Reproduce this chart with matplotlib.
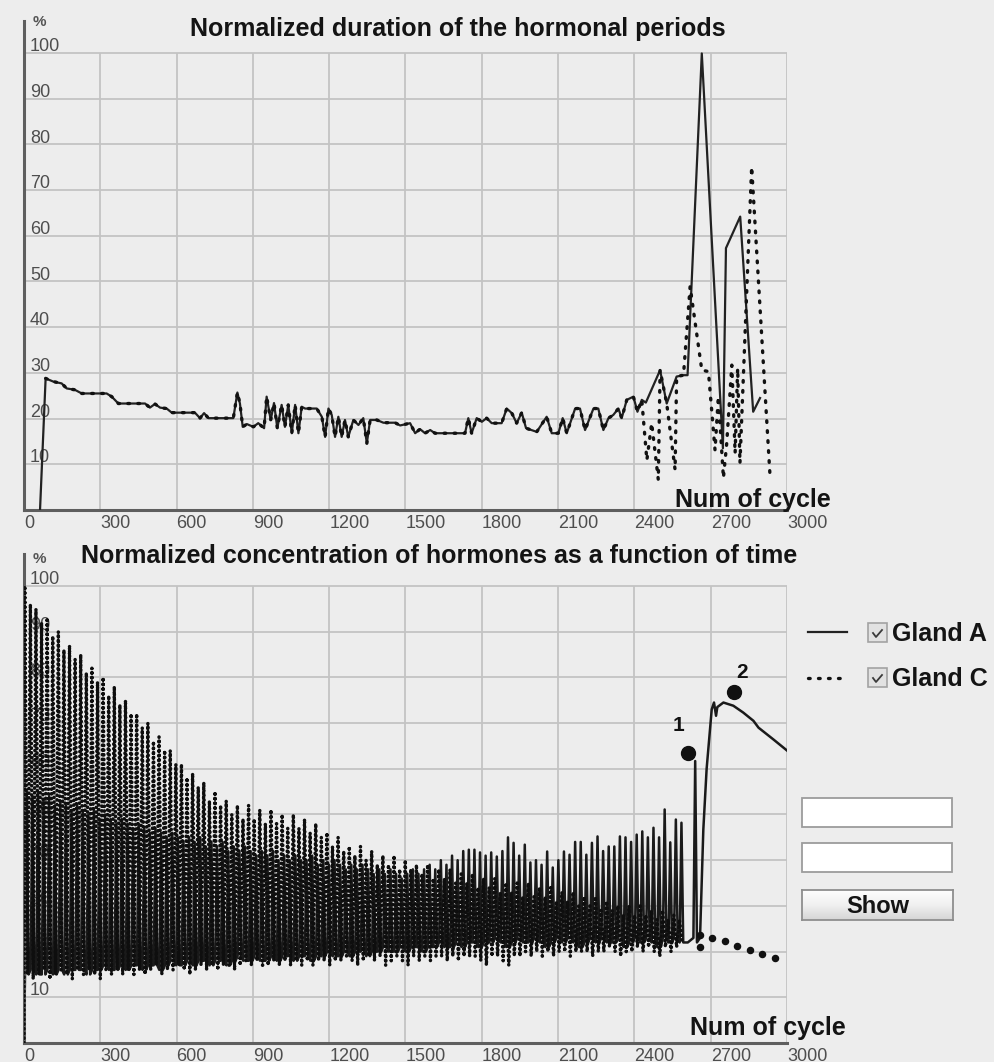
import numpy as np
import matplotlib
matplotlib.use('Agg')
import matplotlib.pyplot as plt
from matplotlib.patches import Rectangle
from matplotlib.lines import Line2D
from matplotlib.colors import LinearSegmentedColormap

plt.rcParams['font.family'] = ['Liberation Sans', 'DejaVu Sans']

W, H = 995, 1062
BG = '#ededed'
GRID = '#c3c3c3'
SPINE = '#5e5e5e'
TICKC = '#4e4e4e'

x_ticks = list(range(0, 3001, 300))
y_ticks = list(range(10, 101, 10))

# ---- normalized duration of the periods (both glands share the early part)
dur_cycle = [85, 115, 148, 168, 200, 227, 325, 345, 371, 476,
             495, 515, 535, 561, 581, 672, 692, 708, 725, 823,
             839, 849, 860, 876, 902, 921, 944, 954, 970, 983,
             996, 1013, 1026, 1039, 1053, 1066, 1079, 1092, 1105, 1151,
             1171, 1184, 1197, 1210, 1223, 1236, 1249, 1262, 1275, 1295,
             1315, 1334, 1348, 1361, 1387, 1413, 1459, 1479, 1518, 1538,
             1557, 1577, 1597, 1616, 1734, 1747, 1760, 1780, 1800, 1819,
             1839, 1878, 1898, 1918, 1937, 1957, 1974, 2016, 2055, 2075,
             2101, 2118, 2134, 2167, 2186, 2206, 2239, 2258, 2278, 2298,
             2317, 2337, 2350, 2370, 2396, 2412, 2429]
dur_shared = [28.8, 28.1, 27.7, 26.6, 26.3, 25.5, 25.5, 24.8, 23.3, 23.3,
              22.4, 23.2, 22.4, 22.2, 21.3, 21.3, 20.1, 21.2, 20.1, 20.1,
              25.7, 23.3, 18.2, 18.8, 18.2, 19.0, 17.9, 24.8, 19.7, 23.4,
              17.9, 23.0, 18.2, 23.0, 16.8, 23.0, 16.8, 22.6, 22.2, 22.2,
              20.4, 16.0, 22.2, 20.8, 16.0, 20.4, 16.0, 19.7, 16.0, 19.7,
              18.6, 20.1, 14.6, 19.7, 19.7, 19.1, 19.1, 18.5, 19.0, 16.8,
              17.7, 16.8, 17.5, 16.8, 16.8, 20.1, 16.8, 20.1, 19.3, 20.1,
              19.0, 19.0, 22.2, 21.2, 19.0, 21.3, 17.9, 17.1, 20.4, 16.8,
              16.8, 20.1, 16.8, 22.2, 22.2, 17.5, 22.2, 22.2, 17.5, 20.1,
              20.8, 22.2, 20.1, 24.1, 24.8, 21.5, 24.1]

dur_a_head_cycle = [63]
dur_a_head = [0.0]
dur_a_end_cycle = [2445, 2501, 2527, 2566, 2593, 2609, 2665, 2748, 2760, 2816, 2867, 2894]
dur_a_end = [23.5, 30.6, 23.3, 29.2, 29.5, 29.5, 99.9, 13.5, 57.3, 64.2, 21.5, 24.5]
dur_c_end_cycle = [2449, 2468, 2494, 2501, 2527, 2560, 2566, 2593, 2619, 2665, 2691,
                   2717, 2730, 2750, 2763, 2783, 2796, 2806, 2815, 2861, 2933]
dur_c_end = [10.9, 19.0, 6.6, 30.6, 23.3, 8.8, 29.2, 29.5, 48.9, 30.6, 30.3,
             13.1, 24.8, 7.0, 14.6, 31.7, 12.4, 31.0, 10.2, 75.1, 7.7]

# ---- concentration: one peak and one trough per hormonal period
period = 22
c_peaks = [100, 96, 95, 92, 93, 89, 90, 86, 87, 84,
           85, 81, 82, 79, 80, 76, 78, 74, 75, 72,
           72, 69, 70, 66, 67, 64, 64, 61, 61, 58,
           59, 56, 57, 53, 55, 52, 53, 50, 52, 49,
           52, 49, 51, 48, 51, 48, 50, 47, 50, 47,
           49, 46, 48, 45, 46, 43, 45, 42, 43, 41,
           43, 40, 42, 39, 41, 39, 41, 38, 40, 38,
           39, 37, 39, 36, 38, 36, 38, 35, 37, 35,
           37, 34, 36, 34, 36, 33, 35, 33, 35, 32,
           35, 32, 34, 32, 34, 31, 33, 31, 33, 30,
           32, 30, 32, 29, 31, 29, 30, 28, 30, 28,
           30, 28, 29, 27, 29, 27, 28, 27]
c_troughs = [15, 14, 15, 16, 14, 15, 16, 15, 14, 16,
             15, 16, 15, 14, 16, 15, 16, 15, 16, 15,
             16, 15, 16, 17, 15, 16, 16, 17, 16, 15,
             16, 17, 16, 17, 16, 17, 17, 16, 17, 18,
             17, 18, 17, 17, 18, 17, 18, 17, 18, 17,
             18, 17, 18, 18, 17, 18, 18, 19, 18, 17,
             18, 19, 18, 19, 17, 18, 19, 18, 17, 19,
             18, 19, 18, 19, 19, 18, 19, 18, 19, 19,
             19, 18, 17, 19, 19, 18, 17, 19, 19, 20,
             19, 20, 19, 20, 19, 20, 20, 19, 20, 20,
             20, 19, 20, 20, 21, 20, 19, 20, 20, 21,
             20, 21, 20, 19, 21, 20, 21, 22]
a_peaks = [55, 54, 55, 53, 54, 52, 53, 52, 51, 52,
           51, 50, 51, 49, 50, 49, 48, 49, 48, 47,
           48, 47, 46, 47, 46, 45, 46, 45, 44, 45,
           44, 45, 43, 44, 43, 44, 42, 43, 42, 43,
           42, 41, 42, 41, 42, 40, 41, 40, 41, 40,
           40, 41, 39, 40, 39, 40, 39, 38, 39, 38,
           39, 38, 37, 38, 37, 38, 37, 36, 37, 38,
           37, 38, 39, 38, 40, 39, 41, 40, 42, 42.3,
           42.3, 41.7, 41, 41.7, 40.8, 42, 45, 43.8, 41, 43.4,
           39.5, 40, 39, 41.9, 38.4, 40, 41.9, 41.2, 44, 44,
           41.2, 43.8, 45.2, 42, 43, 43, 45.2, 45, 44, 45.6,
           46.3, 45, 47.1, 45, 51.1, 43.9, 48.9, 48.2]
a_troughs = [15, 16, 15, 15, 16, 15, 16, 15, 16, 16,
             16, 15, 16, 16, 17, 16, 16, 17, 16, 17,
             17, 16, 17, 17, 16, 17, 18, 17, 17, 18,
             17, 18, 18, 17, 18, 18, 17, 18, 19, 18,
             18, 19, 18, 18, 19, 18, 19, 19, 18, 19,
             19, 18, 19, 19, 20, 19, 19, 20, 19, 20,
             20, 19, 20, 20, 21, 20, 20, 21, 20, 21,
             21, 20, 21, 21, 22, 21, 21, 22, 21, 22,
             22, 21, 22, 22, 23, 22, 21, 22, 23, 22,
             22, 23, 22, 21, 22, 23, 22, 23, 22, 21,
             22, 23, 22, 23, 22, 22, 23, 21, 22, 23,
             22, 23, 22, 21, 23, 22, 23, 22]

a_end_cycle = [2610, 2632, 2639, 2646, 2658, 2671, 2684, 2704, 2713, 2721, 2726,
               2750, 2789, 2828, 2868, 2888, 2947, 3000]
a_end = [22, 23, 61.7, 22, 23, 46.7, 60, 73, 74.5, 71.6, 73.5,
         74.5, 73.8, 72.3, 70.5, 69, 66.4, 64]
c_tail_cycle = [2658, 2658, 2705, 2757, 2804, 2855, 2902, 2953]
c_tail = [23.7, 21.0, 23.0, 22.4, 21.3, 20.4, 19.5, 18.6]

point_cycle = [2609, 2792]
point_val = [63.5, 76.8]
point_lbl = ['1', '2']


def fx(px):
    return px / W


def fy(py):
    return 1 - py / H


def frame(ax):
    ax.set_facecolor(BG)
    ax.set_xlim(0, 3000)
    ax.set_ylim(0, 107)
    for s in ('top', 'right'):
        ax.spines[s].set_visible(False)
    for s in ('left', 'bottom'):
        ax.spines[s].set_color(SPINE)
        ax.spines[s].set_linewidth(2.2)
    ax.vlines(x_ticks[1:], 0, 100, color=GRID, lw=1.3, zorder=0.5)
    ax.hlines(y_ticks, 0, 3000, color=GRID, lw=1.3, zorder=0.5)
    ax.set_xticks(x_ticks)
    ax.set_xticklabels([str(v) for v in x_ticks], ha='left', fontsize=13, color=TICKC)
    ax.tick_params(axis='x', length=0, pad=3.5)
    ax.set_yticks([])
    for v in y_ticks:
        ax.text(23, v + 0.4, str(v), ha='left', va='baseline', fontsize=13,
                color=TICKC, zorder=1)


fig = plt.figure(figsize=(W / 100, H / 100), dpi=100, facecolor=BG)
ax_top = fig.add_axes([fx(24), fy(510), (787 - 24) / W, (510 - 21) / H])
ax_bot = fig.add_axes([fx(24), fy(1043), (787 - 24) / W, (1043 - 554) / H])
frame(ax_top)
frame(ax_bot)

dotted_top = dict(color='#111111', lw=2.4, linestyle=(0, (0.5, 2.5)),
                  dash_capstyle='round', zorder=4)
dotted_bot = dict(color='#0e0e0e', lw=2.5, linestyle=(0, (0.1, 1.25)),
                  dash_capstyle='round', zorder=3)

# top: duration of the hormonal periods
a_x = dur_a_head_cycle + dur_cycle + dur_a_end_cycle
a_y = dur_a_head + dur_shared + dur_a_end
c_x = dur_cycle + dur_c_end_cycle
c_y = dur_shared + dur_c_end
ax_top.plot(a_x, a_y, color='#222222', lw=1.6, zorder=3)
ax_top.plot(c_x, c_y, **dotted_top)

# bottom: concentration, gland C swings up and down once per period
cx, cy = [0], [0]
for i, (pk, tr) in enumerate(zip(c_peaks, c_troughs)):
    cx += [i * period + 3, i * period + 14]
    cy += [pk, tr]
ax_bot.plot(cx, cy, **dotted_bot)
ax_bot.plot(c_tail_cycle, c_tail, 'o', color='#111111', ms=4.4, zorder=3)

# gland A fires short spikes
ax_ = [0]
ay = [0]
for i, (pk, tr) in enumerate(zip(a_peaks, a_troughs)):
    ax_ += [i * period + 4, i * period + 11, i * period + 18]
    ay += [tr, pk, tr]
ax_ += a_end_cycle
ay += a_end
ax_bot.plot(ax_, ay, color='#1a1a1a', lw=1.8, zorder=2.5)

ax_bot.plot(point_cycle, point_val, 'o', color='#111111', ms=10, zorder=5)
for xv, yv, lbl, off in zip(point_cycle, point_val, point_lbl, [(-6.5, 20), (5.8, 14.4)]):
    ax_bot.annotate(lbl, (xv, yv), xytext=off, textcoords='offset points',
                    ha='center', va='center', fontsize=15, fontweight='bold',
                    color='#111111', zorder=6)

# titles and axis captions
fig.text(fx(458), fy(36), 'Normalized duration of the hormonal periods',
         ha='center', va='baseline', fontsize=18, fontweight='bold', color='#141414')
fig.text(fx(439), fy(563), 'Normalized concentration of hormones as a function of time',
         ha='center', va='baseline', fontsize=18, fontweight='bold', color='#141414')
for py in (22, 559):
    fig.text(fx(39), fy(py), '%', ha='center', va='center', fontsize=11,
             fontweight='bold', color='#555555')
fig.text(fx(675), fy(507), 'Num of cycle', ha='left', va='baseline', fontsize=18,
         fontweight='bold', color='#141414')
fig.text(fx(690), fy(1035), 'Num of cycle', ha='left', va='baseline', fontsize=18,
         fontweight='bold', color='#141414')

# side panel: legend with check boxes, two input fields and a button
fig.add_artist(Line2D([fx(808), fx(847)], [fy(632), fy(632)], color='#222222', lw=1.6))
fig.add_artist(Line2D([fx(808), fx(847)], [fy(678), fy(678)], **dotted_top))
for y0, name in ((623, 'Gland A'), (668, 'Gland C')):
    fig.add_artist(Rectangle((fx(868), fy(y0 + 19)), 19 / W, 19 / H,
                             transform=fig.transFigure, facecolor='#e2e2e2',
                             edgecolor='#a3a3a3', lw=1.2))
    fig.add_artist(Line2D([fx(873), fx(876), fx(882)],
                          [fy(y0 + 10), fy(y0 + 14), fy(y0 + 7)],
                          color='#3a3a3a', lw=1.3))
    fig.text(fx(892), fy(y0 + 18), name, ha='left', va='baseline', fontsize=18,
             fontweight='bold', color='#141414')

for y0 in (798, 843):
    fig.add_artist(Rectangle((fx(802), fy(y0 + 29)), 150 / W, 29 / H,
                             transform=fig.transFigure, facecolor='white',
                             edgecolor='#9c9c9c', lw=1.3))

btn = fig.add_axes([fx(802), fy(920), 151 / W, 30 / H])
btn_cmap = LinearSegmentedColormap.from_list('btn', ['#fdfdfd', '#f0f0f0', '#d6d6d6'])
grad = np.linspace(0, 1, 30)[:, None] * np.ones((1, 10))
btn.imshow(grad, cmap=btn_cmap, aspect='auto', extent=(0, 1, 0, 1), origin='upper')
btn.set_xticks([])
btn.set_yticks([])
for s in btn.spines.values():
    s.set_color('#8e8e8e')
    s.set_linewidth(1.3)
btn.text(0.5, 0.45, 'Show', ha='center', va='center', fontsize=17,
         fontweight='bold', color='#141414', transform=btn.transAxes)

fig.savefig('out.png', dpi=100, facecolor=BG)
